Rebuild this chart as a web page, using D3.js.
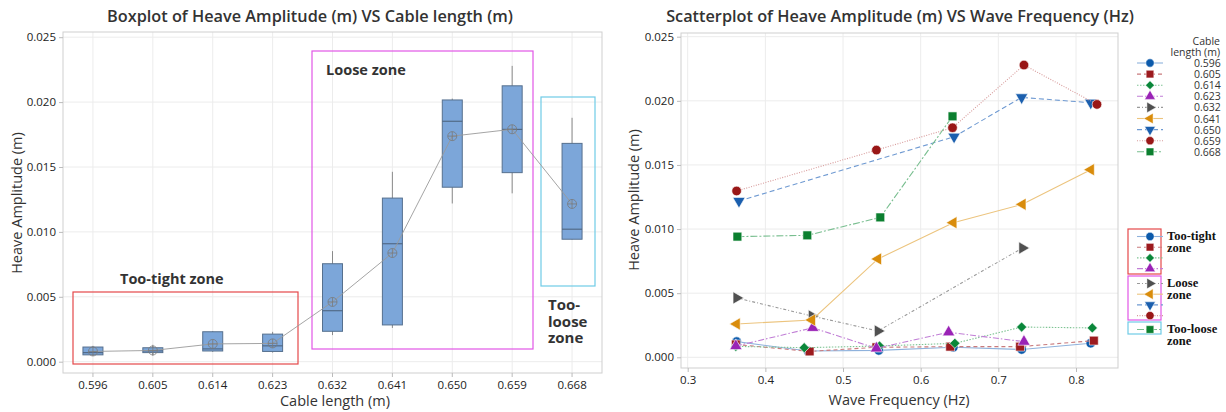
<!DOCTYPE html>
<html>
<head>
<meta charset="utf-8">
<script src="https://cdn.jsdelivr.net/npm/d3@7.9.0/dist/d3.min.js"></script>
<style>
  body { margin: 0; background: #fff; }
  svg text { font-family: "Open Sans", "Noto Sans", sans-serif; fill: #333; }
  .tick text { font-size: 11.5px; fill: #222; }
  .tick line { stroke: #bbb; }
  .zone-legend text { font-family: "Liberation Serif", "DejaVu Serif", serif; font-weight: bold; font-size: 12.5px; fill: #111; }
</style>
</head>
<body>
<svg id="chart" width="1226" height="412"></svg>
<script>
// data
const cableLengths = ['0.596', '0.605', '0.614', '0.623', '0.632', '0.641', '0.650', '0.659', '0.668'];

const freq596 = [0.363, 0.455, 0.546, 0.642, 0.730, 0.819];
const amp596 = [0.00122, 0.00049, 0.00054, 0.00078, 0.00061, 0.00110];
const freq605 = [0.362, 0.457, 0.543, 0.638, 0.728, 0.823];
const amp605 = [0.00100, 0.00046, 0.00078, 0.00083, 0.00083, 0.00130];
const freq614 = [0.362, 0.450, 0.547, 0.644, 0.730, 0.821];
const amp614 = [0.00085, 0.00075, 0.00088, 0.00109, 0.00236, 0.00229];
const freq623 = [0.362, 0.461, 0.543, 0.636, 0.733];
const amp623 = [0.00088, 0.00230, 0.00070, 0.00195, 0.00122];
const freq632 = [0.363, 0.460, 0.545, 0.731];
const amp632 = [0.00463, 0.00322, 0.00205, 0.00852];
const freq641 = [0.363, 0.460, 0.545, 0.642, 0.731, 0.819];
const amp641 = [0.00260, 0.00291, 0.00767, 0.01050, 0.01193, 0.01463];
const freq650 = [0.366, 0.643, 0.730, 0.819];
const amp650 = [0.01219, 0.01720, 0.02027, 0.01985];
const freq659 = [0.363, 0.543, 0.641, 0.733, 0.827];
const amp659 = [0.01297, 0.01616, 0.01790, 0.02279, 0.01972];
const freq668 = [0.364, 0.454, 0.548, 0.641];
const amp668 = [0.00941, 0.00951, 0.01091, 0.01879];

const yTicks = [0, 0.005, 0.010, 0.015, 0.020, 0.025];
const xTicks = [0.3, 0.4, 0.5, 0.6, 0.7, 0.8];

const seriesColors = ['#0b5aab', '#9c1a1e', '#0a873a', '#9a22b6', '#505050', '#d98c0b', '#1b5fae', '#991717', '#0b7f2f'];
const lineColors = ['#8fb2dc', '#c97b7d', '#7fc494', '#c17fd6', '#9a9a9a', '#ecc47e', '#6f9ad2', '#d79a9a', '#78be8f'];
const dashes = ['none', '4,3', '1.5,1.5', '6,2,1.5,2', '3,2,1,2', 'none', '5,3', '1,1.5', '7,2,2,2'];
const shapes = ['circle', 'square', 'diamond', 'up', 'right', 'left', 'down', 'circle', 'square'];

const freqs = [freq596, freq605, freq614, freq623, freq632, freq641, freq650, freq659, freq668];
const amps = [amp596, amp605, amp614, amp623, amp632, amp641, amp650, amp659, amp668];

const series = cableLengths.map((len, i) => ({
  len: len,
  points: freqs[i].map((f, j) => ({ f: f, a: amps[i][j] }))
}));

const svg = d3.select('#chart');

// Minitab style quartiles
function mtbQuantile(sorted, p) {
  const n = sorted.length;
  const pos = (n + 1) * p;
  if (pos <= 1) return sorted[0];
  if (pos >= n) return sorted[n - 1];
  const lo = Math.floor(pos);
  return sorted[lo - 1] + (pos - lo) * (sorted[lo] - sorted[lo - 1]);
}

// ---------- Boxplot (left) ----------
const L = { left: 63, right: 602, top: 32, bottom: 373 };
const xL = d3.scaleBand().domain(cableLengths).range([L.left, L.right]);
const yL = d3.scaleLinear().domain([0, 0.025]).range([361.7, 37.2]);

const left = svg.append('g');

left.append('g').selectAll('line.h').data(yTicks).join('line')
  .attr('x1', L.left).attr('x2', L.right)
  .attr('y1', d => yL(d)).attr('y2', d => yL(d))
  .attr('stroke', '#ececec');
left.append('g').selectAll('line.v').data(cableLengths).join('line')
  .attr('x1', d => xL(d) + xL.bandwidth() / 2).attr('x2', d => xL(d) + xL.bandwidth() / 2)
  .attr('y1', L.top).attr('y2', L.bottom)
  .attr('stroke', '#ececec');
left.append('rect')
  .attr('x', L.left).attr('y', L.top)
  .attr('width', L.right - L.left).attr('height', L.bottom - L.top)
  .attr('fill', 'none').attr('stroke', '#cfcfcf');

left.append('g')
  .attr('transform', `translate(${L.left},0)`)
  .call(d3.axisLeft(yL).tickValues(yTicks).tickFormat(d3.format('.3f')).tickSize(4).tickPadding(3))
  .call(g => g.select('.domain').remove());
left.append('g')
  .attr('transform', `translate(0,${L.bottom})`)
  .call(d3.axisBottom(xL).tickSize(4).tickPadding(4))
  .call(g => g.select('.domain').remove());

// zone boxes
const zoneRects = [
  { x0: 73, x1: 298, y0: 292, y1: 364, c: '#e5484a' },
  { x0: 312, x1: 533, y0: 51, y1: 349, c: '#e156e6' },
  { x0: 541, x1: 595, y0: 97, y1: 286, c: '#6fcbe6' }
];
left.append('g').selectAll('rect').data(zoneRects).join('rect')
  .attr('x', d => d.x0).attr('y', d => d.y0)
  .attr('width', d => d.x1 - d.x0).attr('height', d => d.y1 - d.y0)
  .attr('fill', 'none').attr('stroke', d => d.c).attr('stroke-width', 1.2);

const zoneText = left.append('g').attr('font-weight', 'bold').attr('font-size', 14.5);
zoneText.append('text').attr('x', 120).attr('y', 284).text('Too-tight zone');
zoneText.append('text').attr('x', 326).attr('y', 75).text('Loose zone');
['Too-', 'loose', 'zone'].forEach((t, i) => {
  zoneText.append('text').attr('x', 548).attr('y', 310 + i * 16.5).attr('font-size', 15).text(t);
});

// box stats
const stats = series.map(s => {
  const v = s.points.map(p => p.a).sort(d3.ascending);
  const q1 = mtbQuantile(v, 0.25), q3 = mtbQuantile(v, 0.75);
  const iqr = q3 - q1;
  const inside = v.filter(x => x >= q1 - 1.5 * iqr && x <= q3 + 1.5 * iqr);
  return {
    len: s.len, q1: q1, q3: q3, med: d3.median(v), mean: d3.mean(v),
    lo: d3.min(inside), hi: d3.max(inside)
  };
});

const boxW = 20;
const cx = d => xL(d.len) + xL.bandwidth() / 2;
const boxes = left.append('g');
boxes.selectAll('line.whisker').data(stats).join('line')
  .attr('x1', cx).attr('x2', cx)
  .attr('y1', d => yL(d.hi)).attr('y2', d => yL(d.lo))
  .attr('stroke', '#8a8a8a');
boxes.selectAll('rect').data(stats).join('rect')
  .attr('x', d => cx(d) - boxW / 2).attr('y', d => yL(d.q3))
  .attr('width', boxW).attr('height', d => yL(d.q1) - yL(d.q3))
  .attr('fill', '#7ca6d9').attr('stroke', '#56708e').attr('stroke-width', 1);
boxes.selectAll('line.med').data(stats).join('line')
  .attr('x1', d => cx(d) - boxW / 2).attr('x2', d => cx(d) + boxW / 2)
  .attr('y1', d => yL(d.med)).attr('y2', d => yL(d.med))
  .attr('stroke', '#4a5f78');

left.append('path')
  .datum(stats)
  .attr('d', d3.line().x(cx).y(d => yL(d.mean)))
  .attr('fill', 'none').attr('stroke', '#9a9a9a').attr('stroke-width', 0.9);

const meanG = left.append('g').selectAll('g').data(stats).join('g')
  .attr('transform', d => `translate(${cx(d)},${yL(d.mean)})`)
  .attr('stroke', '#7a7a7a').attr('stroke-width', 0.8).attr('fill', 'none');
meanG.append('circle').attr('r', 4.5);
meanG.append('line').attr('x1', -4.5).attr('x2', 4.5);
meanG.append('line').attr('y1', -4.5).attr('y2', 4.5);

left.append('text').attr('x', 310).attr('y', 22).attr('text-anchor', 'middle')
  .attr('font-size', 16.3).attr('font-weight', 600).attr('fill', '#3a3a3a')
  .text('Boxplot of Heave Amplitude (m) VS Cable length (m)');
left.append('text').attr('x', 335).attr('y', 406).attr('text-anchor', 'middle')
  .attr('font-size', 14.5).text('Cable length (m)');
left.append('text').attr('transform', 'translate(22,203) rotate(-90)').attr('text-anchor', 'middle')
  .attr('font-size', 14.5).text('Heave Amplitude (m)');

// ---------- Scatterplot (right) ----------
const R = { left: 681, right: 1118, top: 33, bottom: 368 };
const xR = d3.scaleLinear().domain([0.3, 0.8]).range([687.7, 1076]);
const yR = d3.scaleLinear().domain([0, 0.025]).range([357.3, 36.7]);

const right = svg.append('g');
right.append('g').selectAll('line').data(yTicks).join('line')
  .attr('x1', R.left).attr('x2', R.right)
  .attr('y1', d => yR(d)).attr('y2', d => yR(d)).attr('stroke', '#ececec');
right.append('g').selectAll('line').data(xTicks).join('line')
  .attr('x1', d => xR(d)).attr('x2', d => xR(d))
  .attr('y1', R.top).attr('y2', R.bottom).attr('stroke', '#ececec');
right.append('rect')
  .attr('x', R.left).attr('y', R.top)
  .attr('width', R.right - R.left).attr('height', R.bottom - R.top)
  .attr('fill', 'none').attr('stroke', '#cfcfcf');

right.append('g')
  .attr('transform', `translate(${R.left},0)`)
  .call(d3.axisLeft(yR).tickValues(yTicks).tickFormat(d3.format('.3f')).tickSize(4).tickPadding(3))
  .call(g => g.select('.domain').remove());
right.append('g')
  .attr('transform', `translate(0,${R.bottom})`)
  .call(d3.axisBottom(xR).tickValues(xTicks).tickFormat(d3.format('.1f')).tickSize(4).tickPadding(4))
  .call(g => g.select('.domain').remove());

// diamond = square turned by 45 degrees
function symbolPath(shape, k) {
  const types = { circle: d3.symbolCircle, square: d3.symbolSquare, diamond: d3.symbolSquare };
  const t = types[shape] || d3.symbolTriangle;
  const size = { circle: 72, square: 78, diamond: 52 }[shape] || 66;
  return d3.symbol().type(t).size(size * (k || 1))();
}
const rot = { up: 0, right: 90, down: 180, left: -90, diamond: 45 };

const lineR = d3.line().x(p => xR(p.f)).y(p => yR(p.a));
const sg = right.append('g').selectAll('g').data(series).join('g');
sg.append('path')
  .attr('d', d => lineR(d.points))
  .attr('fill', 'none')
  .attr('stroke', (d, i) => lineColors[i])
  .attr('stroke-width', 1.1)
  .attr('stroke-dasharray', (d, i) => dashes[i]);
sg.each(function (d, i) {
  d3.select(this).selectAll('path.pt').data(d.points).join('path')
    .attr('class', 'pt')
    .attr('d', symbolPath(shapes[i]))
    .attr('transform', p => `translate(${xR(p.f)},${yR(p.a)}) rotate(${rot[shapes[i]] || 0})`)
    .attr('fill', seriesColors[i])
    .attr('stroke', '#fff').attr('stroke-width', 0.6);
});

right.append('text').attr('x', 900).attr('y', 22).attr('text-anchor', 'middle')
  .attr('font-size', 16.3).attr('font-weight', 600).attr('fill', '#3a3a3a')
  .text('Scatterplot of Heave Amplitude (m) VS Wave Frequency (Hz)');
right.append('text').attr('x', 899).attr('y', 405).attr('text-anchor', 'middle')
  .attr('font-size', 14.5).text('Wave Frequency (Hz)');
right.append('text').attr('transform', 'translate(639,200) rotate(-90)').attr('text-anchor', 'middle')
  .attr('font-size', 14.5).text('Heave Amplitude (m)');

// cable length legend
const lg = svg.append('g').attr('font-size', 10.5);
lg.append('text').attr('x', 1220).attr('y', 45).attr('text-anchor', 'end').text('Cable');
lg.append('text').attr('x', 1220).attr('y', 56).attr('text-anchor', 'end').text('length (m)');

function legendRow(g, i, y) {
  g.append('line').attr('x1', 1137).attr('x2', 1163).attr('y1', y).attr('y2', y)
    .attr('stroke', lineColors[i]).attr('stroke-width', 1.1).attr('stroke-dasharray', dashes[i]);
  g.append('path').attr('d', symbolPath(shapes[i], 0.75))
    .attr('transform', `translate(1150,${y}) rotate(${rot[shapes[i]] || 0})`)
    .attr('fill', seriesColors[i]).attr('stroke', '#fff').attr('stroke-width', 0.5);
}
cableLengths.forEach((len, i) => {
  const y = 63 + i * 11.1;
  legendRow(lg, i, y);
  lg.append('text').attr('x', 1194).attr('y', y + 4).text(len);
});

// zone legend
const zl = svg.append('g').attr('class', 'zone-legend');
const zoneGroups = [
  { idx: [0, 1, 2, 3], y0: 229, y1: 274, c: '#e5484a', lines: ['Too-tight', 'zone'] },
  { idx: [4, 5, 6, 7], y0: 276, y1: 320, c: '#e156e6', lines: ['Loose', 'zone'] },
  { idx: [8], y0: 322, y1: 334, c: '#6fcbe6', lines: ['Too-loose', 'zone'] }
];
zoneGroups.forEach(z => {
  zl.append('rect').attr('x', 1128).attr('y', z.y0).attr('width', 33).attr('height', z.y1 - z.y0)
    .attr('fill', 'none').attr('stroke', z.c).attr('stroke-width', 1.2);
  z.idx.forEach((i, k) => legendRow(zl, i, z.y0 + 7.5 + k * 10.7));
  z.lines.forEach((t, k) => {
    zl.append('text').attr('x', 1167).attr('y', z.y0 + 11 + k * 11.5).text(t);
  });
});
</script>
</body>
</html>
